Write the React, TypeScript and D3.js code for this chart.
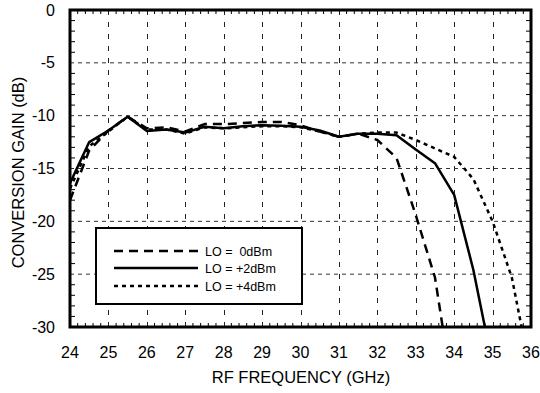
import React from "react";
import * as d3 from "d3";

const freq = [24, 24.5, 25, 25.5, 26, 26.5, 27, 27.5, 28, 28.5, 29, 29.5, 30, 30.5, 31, 31.5, 32, 32.5, 33, 33.5, 34, 34.5, 35, 35.5, 36];
const lo0 = [-18.0, -13.3, -11.4, -10.1, -11.2, -11.1, -11.5, -10.8, -10.8, -10.7, -10.6, -10.6, -10.9, -11.5, -12.0, -11.7, -12.3, -14.0, -19.4, -25.3, -37, null, null, null, null];
const lo2 = [-16.4, -12.5, -11.4, -10.1, -11.45, -11.3, -11.6, -11.05, -11.2, -11.0, -10.9, -10.95, -11.05, -11.4, -12.0, -11.7, -11.7, -11.85, -13.2, -14.5, -17.5, -24.6, -33.6, null, null];
const lo4 = [-16.9, -12.9, -11.5, -10.1, -11.3, -11.3, -11.7, -11.1, -11.2, -11.1, -11.0, -11.0, -11.1, -11.5, -12.0, -11.7, -11.6, -11.6, -12.3, -13.1, -13.9, -16.0, -20.0, -25.3, -34.5];

const xTicks = [24, 25, 26, 27, 28, 29, 30, 31, 32, 33, 34, 35, 36];
const yTicks = [0, -5, -10, -15, -20, -25, -30];
const legendLabels = ["LO =  0dBm", "LO = +2dBm", "LO = +4dBm"];

const W = 540, H = 393;
const L = 70, R = 531, T = 10, B = 327;

export default function App() {
  const x = d3.scaleLinear().domain([24, 36]).range([L, R]);
  const y = d3.scaleLinear().domain([-30, 0]).range([B, T]);
  const mk = (vals: (number | null)[]) =>
    d3.line<number>()
      .defined((_, i) => vals[i] !== null)
      .x((f) => x(f))
      .y((_, i) => y(vals[i] as number))(freq) || "";

  const minorX = d3.range(24, 36.001, 0.2).filter((v) => Math.abs(v - Math.round(v)) > 0.01);
  const minorY = d3.range(-30, 0.5, 1).filter((v) => v % 5 !== 0);
  const font = "Arial, 'Liberation Sans', sans-serif";

  const series = [
    { vals: lo0, dash: "9,6" },
    { vals: lo4, dash: "4,4" },
    { vals: lo2, dash: "" },
  ];
  const legendItems = [
    { dash: "9,6", label: legendLabels[0], ly: 251 },
    { dash: "", label: legendLabels[1], ly: 268 },
    { dash: "4,4", label: legendLabels[2], ly: 286 },
  ];

  return (
    <svg width={W} height={H} style={{ position: "absolute", left: 0, top: 0, background: "#fff" }} fontFamily={font}>
      <defs>
        <clipPath id="plot">
          <rect x={L} y={T} width={R - L} height={B - T} />
        </clipPath>
      </defs>
      {xTicks.slice(1, -1).map((t) => (
        <line key={"gx" + t} x1={Math.round(x(t)) + 0.5} x2={Math.round(x(t)) + 0.5} y1={T} y2={B} stroke="#222" strokeWidth={1} strokeDasharray="5,7" />
      ))}
      {yTicks.slice(1, -1).map((t) => (
        <line key={"gy" + t} x1={L} x2={R} y1={y(t)} y2={y(t)} stroke="#333" strokeWidth={1} strokeDasharray="4,4" />
      ))}
      {minorX.map((t) => (
        <g key={"mx" + t}>
          <line x1={x(t)} x2={x(t)} y1={B} y2={B - 4} stroke="#000" strokeWidth={1} />
          <line x1={x(t)} x2={x(t)} y1={T} y2={T + 4} stroke="#000" strokeWidth={1} />
        </g>
      ))}
      {minorY.map((t) => (
        <g key={"my" + t}>
          <line x1={L} x2={L + 5} y1={y(t)} y2={y(t)} stroke="#000" strokeWidth={1} />
          <line x1={R} x2={R - 5} y1={y(t)} y2={y(t)} stroke="#000" strokeWidth={1} />
        </g>
      ))}
      <g clipPath="url(#plot)">
        {series.map((s, i) => (
          <path key={i} d={mk(s.vals)} fill="none" stroke="#000" strokeWidth={2.5} strokeDasharray={s.dash || undefined} strokeLinejoin="round" />
        ))}
      </g>
      <rect x={96} y={228} width={206} height={76} fill="#fff" stroke="#000" strokeWidth={2} />
      {legendItems.map((it, i) => (
        <g key={"lg" + i}>
          <line x1={114} x2={198} y1={it.ly} y2={it.ly} stroke="#000" strokeWidth={2.5} strokeDasharray={it.dash || undefined} />
          <text x={205} y={it.ly + 4.5} fontSize={12.5} style={{ whiteSpace: "pre" }}>{it.label}</text>
        </g>
      ))}
      <rect x={L} y={T} width={R - L} height={B - T} fill="none" stroke="#000" strokeWidth={3} />
      {xTicks.map((t) => (
        <text key={"tx" + t} x={x(t)} y={357.5} fontSize={16} textAnchor="middle">{t}</text>
      ))}
      {yTicks.map((t) => (
        <text key={"ty" + t} x={55} y={y(t) + 5.5} fontSize={16} textAnchor="end">{t}</text>
      ))}
      <text x={301} y={383} fontSize={16.5} textAnchor="middle">RF FREQUENCY (GHz)</text>
      <text transform={`translate(24,172.5) rotate(-90)`} fontSize={16.5} textAnchor="middle">CONVERSION GAIN (dB)</text>
    </svg>
  );
}
